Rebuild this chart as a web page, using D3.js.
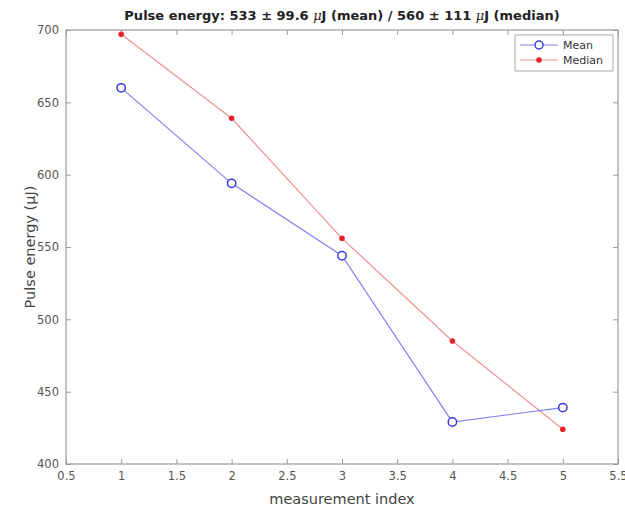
<!DOCTYPE html>
<html><head><meta charset="utf-8">
<script src="https://cdn.jsdelivr.net/npm/d3@7"></script>
<style>body{margin:0;background:#fff;} svg{display:block;}</style>
</head><body>
<script>
const indices = [1, 2, 3, 4, 5];
const meanValues = [660, 594, 544, 429, 439];
const medianValues = [697, 639, 556, 485, 424];
const xTicks = [0.5, 1, 1.5, 2, 2.5, 3, 3.5, 4, 4.5, 5, 5.5];
const xTickLabels = ["0.5","1","1.5","2","2.5","3","3.5","4","4.5","5","5.5"];
const yTicks = [400, 450, 500, 550, 600, 650, 700];
const seriesNames = ["Mean", "Median"];

const W = 625, H = 507;
const m = {left: 66, right: 7, top: 30, bottom: 43};
const svg = d3.select("body").append("svg").attr("width", W).attr("height", H);
const font = "'DejaVu Sans', sans-serif";
const axisCol = "#9a9a9a", textCol = "#555";

const x = d3.scaleLinear().domain([0.5, 5.5]).range([m.left, W - m.right]);
const y = d3.scaleLinear().domain([400, 700]).range([H - m.bottom, m.top]);

// box
svg.append("rect").attr("x", m.left).attr("y", m.top)
  .attr("width", W - m.left - m.right).attr("height", H - m.top - m.bottom)
  .attr("fill", "#fff").attr("stroke", axisCol).attr("stroke-width", 1.2);

const tl = 5;
function styleAxis(g){
  g.select(".domain").remove();
  g.selectAll(".tick line").attr("stroke", axisCol).attr("stroke-width", 1);
  g.selectAll(".tick text").attr("fill", textCol).style("font-family", font).style("font-size", "11.5px");
}
svg.append("g").attr("transform", `translate(0,${H - m.bottom})`)
  .call(d3.axisBottom(x).tickValues(xTicks).tickFormat((d,i)=>xTickLabels[i]).tickSizeInner(-tl).tickSizeOuter(0).tickPadding(8))
  .call(styleAxis);
svg.append("g").attr("transform", `translate(0,${m.top})`)
  .call(d3.axisTop(x).tickValues(xTicks).tickFormat("").tickSizeInner(-tl).tickSizeOuter(0))
  .call(styleAxis);
svg.append("g").attr("transform", `translate(${m.left},0)`)
  .call(d3.axisLeft(y).tickValues(yTicks).tickSizeInner(-tl).tickSizeOuter(0).tickPadding(7))
  .call(styleAxis);
svg.append("g").attr("transform", `translate(${W - m.right},0)`)
  .call(d3.axisRight(y).tickValues(yTicks).tickFormat("").tickSizeInner(-tl).tickSizeOuter(0))
  .call(styleAxis);

// labels
svg.append("text").attr("x", (m.left + W - m.right)/2).attr("y", 504)
  .attr("text-anchor", "middle").attr("fill", "#444")
  .style("font-family", font).style("font-size", "14.5px").text("measurement index");
svg.append("text").attr("transform", `translate(35,${(m.top + H - m.bottom)/2}) rotate(-90)`)
  .attr("text-anchor", "middle").attr("fill", "#444")
  .style("font-family", font).style("font-size", "14.5px")
  .text("Pulse energy (μJ)");
const title = svg.append("text").attr("x", (m.left + W - m.right)/2).attr("y", 20)
  .attr("text-anchor", "middle").attr("fill", "#222")
  .style("font-family", font).style("font-size", "13px").style("font-weight", "bold");
title.append("tspan").text("Pulse energy: 533 ± 99.6 ");
title.append("tspan").style("font-weight", "normal").style("font-style", "italic").style("font-family", "'DejaVu Serif', serif").text("μ");
title.append("tspan").text("J (mean) / 560 ± 111 ");
title.append("tspan").style("font-weight", "normal").style("font-style", "italic").style("font-family", "'DejaVu Serif', serif").text("μ");
title.append("tspan").text("J (median)");

const line = d3.line().x((d,i)=>x(indices[i])).y(d=>y(d));
const blueLine = "#7f7ff2", blueMark = "#3a3ae0";
const redLine = "#f29090", redMark = "#e8202a";

svg.append("path").datum(medianValues).attr("d", line)
  .attr("fill", "none").attr("stroke", redLine).attr("stroke-width", 1.2);
svg.append("path").datum(meanValues).attr("d", line)
  .attr("fill", "none").attr("stroke", blueLine).attr("stroke-width", 1.2);

svg.selectAll(".mean-pt").data(meanValues).enter().append("circle")
  .attr("cx", (d,i)=>x(indices[i])).attr("cy", d=>y(d)).attr("r", 4.2)
  .attr("fill", "#fff").attr("stroke", blueMark).attr("stroke-width", 1.5);
svg.selectAll(".med-pt").data(medianValues).enter().append("circle")
  .attr("cx", (d,i)=>x(indices[i])).attr("cy", d=>y(d)).attr("r", 2.8)
  .attr("fill", redMark);

// legend
const lg = svg.append("g");
lg.append("rect").attr("x", 515).attr("y", 35).attr("width", 98).attr("height", 36)
  .attr("fill", "#fff").attr("stroke", "#aaa").attr("stroke-width", 1);
const items = [{c: blueLine, mc: blueMark, t: seriesNames[0], type: "o"}, {c: redLine, mc: redMark, t: seriesNames[1], type: "."}];
items.forEach((it, i) => {
  const yy = 45 + i * 15;
  lg.append("line").attr("x1", 520).attr("x2", 558).attr("y1", yy).attr("y2", yy)
    .attr("stroke", it.c).attr("stroke-width", 1.2);
  if (it.type === "o") {
    lg.append("circle").attr("cx", 539).attr("cy", yy).attr("r", 4)
      .attr("fill", "#fff").attr("stroke", it.mc).attr("stroke-width", 1.5);
  } else {
    lg.append("circle").attr("cx", 539).attr("cy", yy).attr("r", 2.8).attr("fill", it.mc);
  }
  lg.append("text").attr("x", 563).attr("y", yy + 4).attr("fill", "#333")
    .style("font-family", font).style("font-size", "11px").text(it.t);
});
</script>
</body></html>
